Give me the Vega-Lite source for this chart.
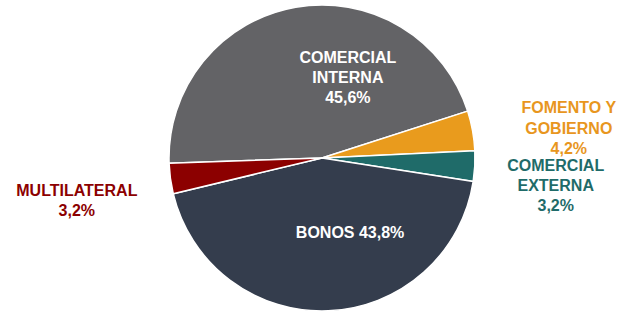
{
  "$schema": "https://vega.github.io/schema/vega-lite/v6.json",
  "width": 612,
  "height": 308,
  "autosize": {"type": "none"},
  "padding": {"left": 16, "top": 4, "right": 0, "bottom": 0},
  "background": "white",
  "view": {"stroke": null},
  "config": {"font": "Liberation Sans"},
  "data": {
    "values": [
      {"cat": "COMERCIAL INTERNA", "value": 45.6, "order": 1, "label": "COMERCIAL\nINTERNA\n45,6%"},
      {"cat": "FOMENTO Y GOBIERNO", "value": 4.2, "order": 2, "label": "FOMENTO Y\nGOBIERNO\n4,2%"},
      {"cat": "COMERCIAL EXTERNA", "value": 3.2, "order": 3, "label": "COMERCIAL\nEXTERNA\n3,2%"},
      {"cat": "BONOS", "value": 43.8, "order": 4, "label": "BONOS 43,8%"},
      {"cat": "MULTILATERAL", "value": 3.2, "order": 5, "label": "MULTILATERAL\n3,2%"}
    ]
  },
  "encoding": {
    "theta": {"field": "value", "type": "quantitative", "stack": true, "scale": {"range": [-1.6057, 4.6775]}},
    "order": {"field": "order", "type": "quantitative"}
  },
  "layer": [
    {
      "mark": {"type": "arc", "outerRadius": 153, "stroke": "white", "strokeWidth": 1.5},
      "encoding": {
        "color": {
          "field": "cat", "type": "nominal", "legend": null,
          "scale": {
            "domain": ["COMERCIAL INTERNA", "FOMENTO Y GOBIERNO", "COMERCIAL EXTERNA", "BONOS", "MULTILATERAL"],
            "range": ["#636366", "#E99B1D", "#1F6B69", "#343D4D", "#8C0000"]
          }
        }
      }
    },
    {
      "mark": {"type": "text", "radius": 82, "dx": 40, "dy": -19, "color": "white", "fontSize": 16, "fontWeight": "bold", "lineBreak": "\n", "lineHeight": 20, "align": "center", "baseline": "middle"},
      "encoding": {"text": {"condition": {"test": "datum.cat === 'COMERCIAL INTERNA'", "field": "label"}, "value": ""}}
    },
    {
      "mark": {"type": "text", "radius": 75, "dx": 25, "dy": 0, "color": "white", "fontSize": 16, "fontWeight": "bold", "lineBreak": "\n", "lineHeight": 20, "align": "center", "baseline": "middle"},
      "encoding": {"text": {"condition": {"test": "datum.cat === 'BONOS'", "field": "label"}, "value": ""}}
    },
    {
      "mark": {"type": "text", "radius": 200, "dx": 50, "dy": -14, "color": "#E8961E", "fontSize": 16, "fontWeight": "bold", "lineBreak": "\n", "lineHeight": 20.5, "align": "center", "baseline": "middle"},
      "encoding": {"text": {"condition": {"test": "datum.cat === 'FOMENTO Y GOBIERNO'", "field": "label"}, "value": ""}}
    },
    {
      "mark": {"type": "text", "radius": 200, "dx": 34, "dy": -3, "color": "#1F6B69", "fontSize": 16, "fontWeight": "bold", "lineBreak": "\n", "lineHeight": 20, "align": "center", "baseline": "middle"},
      "encoding": {"text": {"condition": {"test": "datum.cat === 'COMERCIAL EXTERNA'", "field": "label"}, "value": ""}}
    },
    {
      "mark": {"type": "text", "radius": 200, "dx": -47, "dy": 6, "color": "#8C0000", "fontSize": 16, "fontWeight": "bold", "lineBreak": "\n", "lineHeight": 20, "align": "center", "baseline": "middle"},
      "encoding": {"text": {"condition": {"test": "datum.cat === 'MULTILATERAL'", "field": "label"}, "value": ""}}
    }
  ]
}
